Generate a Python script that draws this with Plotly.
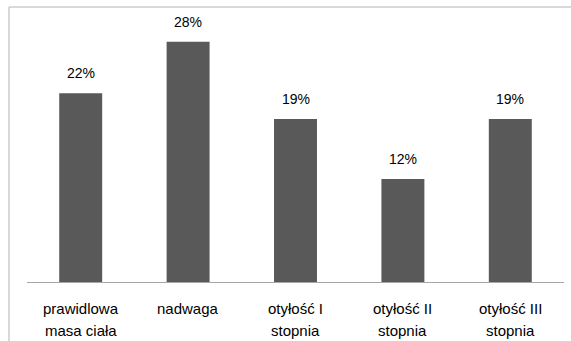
import plotly.graph_objects as go

# Category labels (two lines each) and shares in percent
categories = ["prawidlowa<br>masa ciała", "nadwaga", "otyłość I<br>stopnia",
              "otyłość II<br>stopnia", "otyłość III<br>stopnia"]
values = [22, 28, 19, 12, 19]

W, H = 571, 341
ml, mr, mt, mb = 27, 7, 7, 59
pw = W - ml - mr
ph = H - mt - mb

FONT = "Liberation Sans, Arial, sans-serif"
BAR = "#595959"

fig = go.Figure(go.Bar(
    x=categories, y=values, marker_color=BAR, marker_line_width=0,
    hoverinfo="skip",
))

# value labels above each bar
for c, v in zip(categories, values):
    fig.add_annotation(x=c, y=v, text=f"{v}%", showarrow=False,
                       yanchor="bottom", yshift=10,
                       font=dict(family=FONT, size=14, color="#000000"))

# category names under the axis, one annotation per text line
for c in categories:
    for i, line in enumerate(c.split("<br>")):
        fig.add_annotation(x=c, xref="x", y=0, yref="paper", text=line,
                           showarrow=False, yanchor="middle",
                           yshift=-26 - 22 * i,
                           font=dict(family=FONT, size=15, color="#000000"))

# outer frame (left and top edges of the chart area)
fx0 = (9 - ml) / pw
fig.add_shape(type="line", xref="paper", yref="paper",
              x0=fx0, x1=1 + (mr + 5) / pw, y0=1, y1=1,
              line=dict(color="#b3b3b3", width=1))
fig.add_shape(type="line", xref="paper", yref="paper",
              x0=fx0, x1=fx0, y0=1, y1=-(mb + 5) / ph,
              line=dict(color="#b3b3b3", width=1))

fig.update_layout(
    width=W, height=H,
    margin=dict(l=ml, r=mr, t=mt, b=mb, pad=0),
    paper_bgcolor="white", plot_bgcolor="white",
    bargap=0.6, showlegend=False,
    font=dict(family=FONT, size=15, color="#000000"),
    xaxis=dict(showline=True, linecolor="#a6a6a6", linewidth=1,
               ticks="", showgrid=False, showticklabels=False),
    yaxis=dict(range=[0, 32.05], visible=False, showgrid=False),
)

fig.write_html("out.html")
